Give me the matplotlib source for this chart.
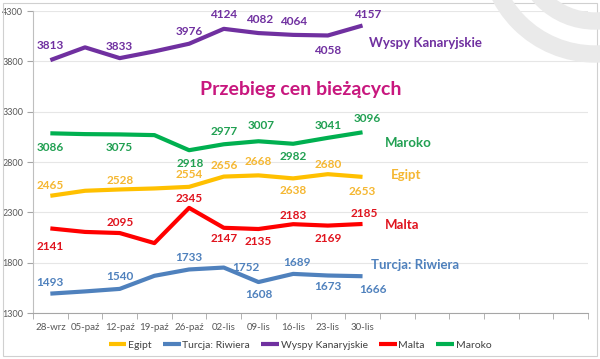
import matplotlib
matplotlib.use('Agg')
import matplotlib.pyplot as plt
from matplotlib.patches import Circle, Rectangle

plt.rcParams['font.family'] = ['Lato', 'DejaVu Sans']

# weekly prices
dates = ['28-wrz', '05-paź', '12-paź', '19-paź', '26-paź', '02-lis',
         '09-lis', '16-lis', '23-lis', '30-lis']
n_slots = 16  # axis keeps room for the weeks still to come

egipt = [2465, 2515, 2528, 2538, 2554, 2656, 2668, 2638, 2680, 2653]
turcja = [1493, 1515, 1540, 1670, 1733, 1752, 1608, 1689, 1673, 1666]
wyspy = [3813, 3940, 3833, 3900, 3976, 4124, 4082, 4064, 4058, 4157]
malta = [2141, 2106, 2095, 1995, 2345, 2147, 2135, 2183, 2169, 2185]
maroko = [3086, 3078, 3075, 3068, 2918, 2977, 3007, 2982, 3041, 3096]

names = ['Egipt', 'Turcja: Riwiera', 'Wyspy Kanaryjskie', 'Malta', 'Maroko']
yticks = [1300, 1800, 2300, 2800, 3300, 3800, 4300]

# only these weeks get a value label
labelled = [0, 2, 4, 5, 6, 7, 8, 9]

# label offsets in pixels (dx, dy), one per labelled point
offs = {
    'Egipt': [(0, 10), (0, 9), (0, 12), (0, 11), (0, 14), (0, -12), (0, 10), (0, -15)],
    'Turcja: Riwiera': [(0, 11), (0, 12), (0, 12), (22, 0), (0, -12), (4, 11), (0, -11), (10, -13)],
    'Wyspy Kanaryjskie': [(0, 15), (0, 12), (0, 12), (0, 14), (1, 14), (0, 13), (0, -15), (5, 11)],
    'Malta': [(0, -18), (0, 11), (0, 9), (0, -11), (0, -12), (0, 9), (0, -13), (2, 10)],
    'Maroko': [(0, -14), (0, -13), (1, -13), (0, 13), (3, 16), (0, -13), (0, 12), (5, 14)],
}

line_cols = {'Egipt': '#FFC000', 'Turcja: Riwiera': '#4F81BD',
             'Wyspy Kanaryjskie': '#7030A0', 'Malta': '#FF0000', 'Maroko': '#00B050'}
text_cols = {'Egipt': '#F5B731', 'Turcja: Riwiera': '#4F81BD',
             'Wyspy Kanaryjskie': '#7030A0', 'Malta': '#E0141E', 'Maroko': '#21A052'}
# where the series names sit (x slot, value)
name_pos = {'Egipt': (9.83, 2672), 'Turcja: Riwiera': (9.25, 1777),
            'Wyspy Kanaryjskie': (9.2, 3984), 'Malta': (9.63, 2175), 'Maroko': (9.63, 2990)}

series = {'Egipt': egipt, 'Turcja: Riwiera': turcja, 'Wyspy Kanaryjskie': wyspy,
          'Malta': malta, 'Maroko': maroko}

fig = plt.figure(figsize=(6, 3.59), dpi=100)
ax = fig.add_axes([0.055, 0.128, 0.925, 0.841])

x = list(range(len(dates)))
for name in names:
    vals = series[name]
    ax.plot(x, vals, color=line_cols[name], lw=3, solid_capstyle='butt',
            solid_joinstyle='round', label=name, zorder=3)
    for k, i in enumerate(labelled):
        dx, dy = offs[name][k]
        ax.annotate(str(vals[i]), (i, vals[i]), xytext=(dx, dy),
                    textcoords='offset pixels', ha='center', va='center',
                    fontsize=8.5, fontweight='bold', color=text_cols[name], zorder=4)
    nx, ny = name_pos[name]
    ax.text(nx, ny, name, fontsize=9.5, fontweight='bold', color=text_cols[name],
            ha='left', va='center')

ax.text(0.482, 0.74, 'Przebieg cen bieżących', transform=ax.transAxes,
        fontsize=14, fontweight='bold', color='#C8177E', ha='center', va='center')

ax.set_xlim(-0.5, n_slots - 0.5)
ax.set_ylim(1300, 4300)
ax.set_yticks(yticks)
ax.set_xticks(x)
ax.set_xticklabels(dates)
ax.set_xticks([i - 0.5 for i in range(n_slots + 1)], minor=True)
ax.tick_params(axis='x', which='major', length=0, labelsize=7, colors='#595959', pad=7)
ax.tick_params(axis='x', which='minor', length=4, color='#A6A6A6')
ax.tick_params(axis='y', length=4, color='#A6A6A6', labelsize=6.5, labelcolor='#595959', pad=3)
ax.grid(axis='y', color='#E6E6E6', lw=0.8)
ax.set_axisbelow(True)
for s in ['top', 'right']:
    ax.spines[s].set_visible(False)
ax.spines['left'].set_color('#BFBFBF')
ax.spines['bottom'].set_color('#A6A6A6')

leg = fig.legend(loc='center', bbox_to_anchor=(0.5, 0.039), ncol=5, frameon=False,
                 fontsize=7.5, handlelength=1.7, handletextpad=0.15, columnspacing=1.1,
                 labelcolor='#404040')
for h in leg.legend_handles:
    h.set_linewidth(3)

# decoration: outer frame and the grey arcs in the corner
over = fig.add_axes([0, 0, 1, 1], zorder=5)
over.set_xlim(0, 600)
over.set_ylim(359, 0)
over.axis('off')
over.patch.set_visible(False)
over.add_patch(Rectangle((3, 3), 594, 353, fill=False, ec='#D0D0D0', lw=0.8))
for r in [107, 74]:
    over.add_patch(Circle((595, -53), r, fill=False, ec='#EAEAEA', lw=12.5))

fig.savefig('out.png', dpi=100)
